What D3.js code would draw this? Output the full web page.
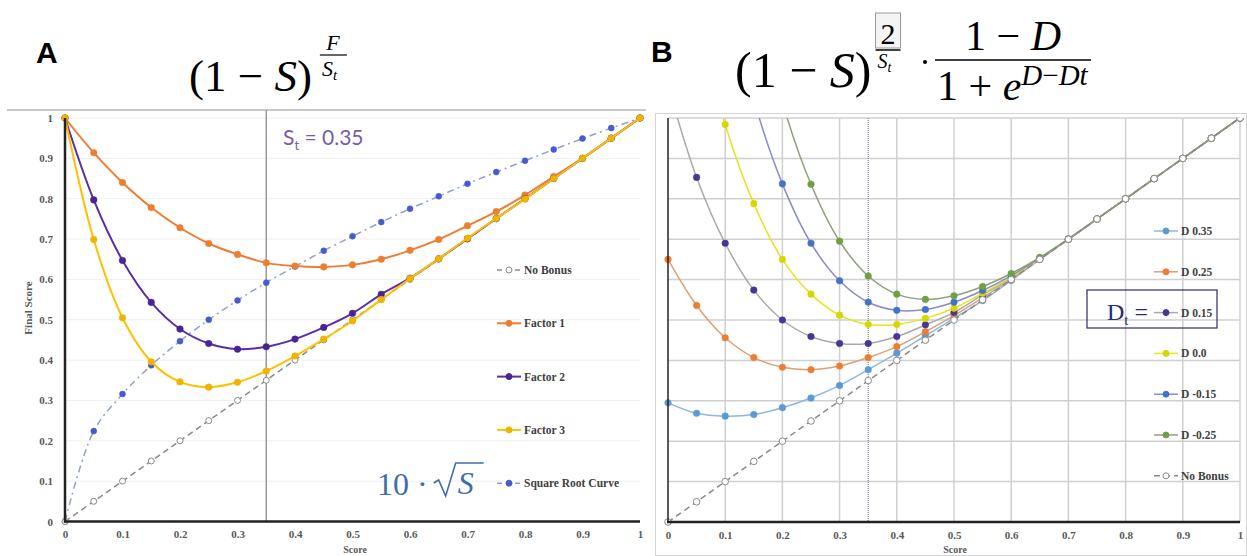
<!DOCTYPE html>
<meta charset="utf-8">
<style>
  body { margin: 0px; background: #fff; }
  svg text { font-family: 'Liberation Serif', 'Times New Roman', 'DejaVu Serif', serif; }
  .tick text { font-weight: bold; font-size: 11px; fill: #595959; }
  .legend text { font-weight: bold; font-size: 11.5px; fill: #404040; }
</style>
<body>
<svg id="chart" width="1247" height="556"></svg>
<script src="https://cdn.jsdelivr.net/npm/d3@7"></script>
<script>

// scores on the x axis (both panels)
var scores = [0,0.05,0.1,0.15,0.2,0.25,0.3,0.35,0.4,0.45,0.5,0.55,0.6,0.65,0.7,0.75,0.8,0.85,0.9,0.95,1];
var xTicks = [0,0.1,0.2,0.3,0.4,0.5,0.6,0.7,0.8,0.9,1];
var yTicks = [0,0.1,0.2,0.3,0.4,0.5,0.6,0.7,0.8,0.9,1];

// panel A
var noBonus  = [0,0.05,0.1,0.15,0.2,0.25,0.3,0.35,0.4,0.45,0.5,0.55,0.6,0.65,0.7,0.75,0.8,0.85,0.9,0.95,1];
var factor1  = [1,0.914,0.840,0.778,0.728,0.689,0.662,0.641,0.633,0.631,0.636,0.650,0.672,0.699,0.733,0.768,0.809,0.855,0.900,0.950,1];
var factor2  = [1,0.797,0.647,0.543,0.477,0.441,0.427,0.433,0.452,0.481,0.516,0.563,0.603,0.651,0.701,0.751,0.800,0.850,0.900,0.950,1];
var factor3  = [1,0.699,0.505,0.396,0.346,0.333,0.345,0.373,0.410,0.452,0.497,0.550,0.602,0.651,0.702,0.751,0.799,0.850,0.900,0.950,1];
var sqrtCurve = [0,0.224,0.316,0.387,0.447,0.500,0.548,0.592,0.632,0.671,0.707,0.742,0.775,0.806,0.837,0.866,0.894,0.922,0.949,0.975,1];
var legendA = ["No Bonus","Factor 1","Factor 2","Factor 3","Square Root Curve"];

// panel B
var d035  = [0.295,0.269,0.262,0.266,0.283,0.307,0.338,0.377,0.418,0.461,0.504,0.548,0.598,0.650,0.700,0.750,0.800,0.850,0.900,0.950,1];
var d025  = [0.650,0.536,0.456,0.407,0.383,0.377,0.386,0.407,0.434,0.471,0.511,0.555,0.601,0.650,0.700,0.750,0.800,0.850,0.900,0.950,1];
var d015  = [1.08,0.853,0.690,0.574,0.500,0.459,0.442,0.442,0.459,0.488,0.519,0.562,0.604,0.651,0.700,0.750,0.800,0.850,0.900,0.950,1];
var d000  = [1.70,1.25,0.984,0.788,0.650,0.564,0.512,0.489,0.489,0.504,0.529,0.566,0.606,0.652,0.700,0.750,0.800,0.850,0.900,0.950,1];
var dm015 = [2.00,1.60,1.35,1.046,0.837,0.690,0.597,0.544,0.524,0.526,0.544,0.573,0.610,0.653,0.700,0.750,0.800,0.850,0.900,0.950,1];
var dm025 = [2.20,1.90,1.60,1.35,1.04,0.836,0.695,0.609,0.564,0.551,0.560,0.583,0.615,0.655,0.701,0.750,0.800,0.850,0.900,0.950,1];
var legendB = ["D 0.35","D 0.25","D 0.15","D 0.0","D -0.15","D -0.25","No Bonus"];

var svg = d3.select("#chart");

var xA = d3.scaleLinear().domain([0,1]).range([65,640]),
    yA = d3.scaleLinear().domain([0,1]).range([521.5,118]),
    xB = d3.scaleLinear().domain([0,1]).range([668,1240]),
    yB = d3.scaleLinear().domain([0,1]).range([522,118]);

function drawSeries(g, x, y, vals, o) {
  var pts = scores.map(function(s, i) { return [s, vals[i]]; });
  var line = d3.line()
      .x(function(d) { return x(d[0]); })
      .y(function(d) { return y(d[1]); })
      .curve(d3.curveCatmullRom);
  g.append("path")
      .attr("d", line(pts))
      .attr("fill", "none")
      .attr("stroke", o.line)
      .attr("stroke-width", o.width || 2)
      .attr("stroke-dasharray", o.dash || null);
  g.selectAll(null)
      .data(pts.filter(function(d) { return d[1] <= 1.02; }))
      .enter().append("circle")
      .attr("cx", function(d) { return x(d[0]); })
      .attr("cy", function(d) { return y(d[1]); })
      .attr("r", o.r || 3.3)
      .attr("fill", o.open ? "#fff" : o.mark)
      .attr("stroke", o.mark)
      .attr("stroke-width", o.open ? 1 : 0.5);
}

function legendItem(g, x, y, label, o) {
  g.append("line")
      .attr("x1", x).attr("x2", x + 24).attr("y1", y).attr("y2", y)
      .attr("stroke", o.line).attr("stroke-width", o.width || 2)
      .attr("stroke-dasharray", o.dash || null);
  g.append("circle")
      .attr("cx", x + 12).attr("cy", y).attr("r", 3)
      .attr("fill", o.open ? "#fff" : o.mark).attr("stroke", o.mark);
  g.append("text")
      .attr("x", x + 27).attr("y", y + 4)
      .text(label);
}

// place a piece of formula right after the previous one
function after(sel, gap) {
  var b = sel.node().getBBox();
  return b.x + b.width + (gap || 0);
}

// ---------------- panel A ----------------
var gA = svg.append("g");

gA.append("line").attr("x1", 7).attr("x2", 646).attr("y1", 110).attr("y2", 110)
    .attr("stroke", "#c8c8c8").attr("stroke-width", 2);

gA.selectAll(".grid").data(yTicks.slice(1)).enter().append("line")
    .attr("x1", xA(0)).attr("x2", xA(1))
    .attr("y1", function(d) { return yA(d); }).attr("y2", function(d) { return yA(d); })
    .attr("stroke", "#f0f0f0");

gA.append("line").attr("x1", xA(0.35)).attr("x2", xA(0.35)).attr("y1", yA(1) - 8).attr("y2", yA(0))
    .attr("stroke", "#9a9a9a").attr("stroke-width", 1.5);

gA.append("g").attr("transform", "translate(" + (xA(0) - 9) + ",0)")
    .call(d3.axisLeft(yA).tickValues(yTicks).tickSize(0).tickFormat(d3.format("")))
    .call(function(g) { g.select(".domain").remove(); g.attr("font-family", null); });
gA.append("g").attr("transform", "translate(0," + (yA(0) + 6) + ")")
    .call(d3.axisBottom(xA).tickValues(xTicks).tickSize(0).tickFormat(d3.format("")))
    .call(function(g) { g.select(".domain").remove(); g.attr("font-family", null); });

drawSeries(gA, xA, yA, sqrtCurve, {line: "#8fa2cc", mark: "#4a5bc9", width: 1.5, dash: "7,4,2,4", r: 3});
drawSeries(gA, xA, yA, noBonus, {line: "#8a8a8a", mark: "#8a8a8a", width: 1.5, dash: "6,4", open: true, r: 3});
drawSeries(gA, xA, yA, factor1, {line: "#ed7d31", mark: "#ed7d31"});
drawSeries(gA, xA, yA, factor2, {line: "#5a2ea6", mark: "#4a2490"});
drawSeries(gA, xA, yA, factor3, {line: "#ffc000", mark: "#f0b400"});

gA.append("line").attr("x1", xA(0)).attr("x2", xA(0)).attr("y1", yA(1)).attr("y2", yA(0) + 1)
    .attr("stroke", "#222").attr("stroke-width", 2.5);
gA.append("line").attr("x1", xA(0) - 1).attr("x2", xA(1)).attr("y1", yA(0)).attr("y2", yA(0))
    .attr("stroke", "#222").attr("stroke-width", 2.5);

gA.append("text").attr("x", 355).attr("y", 553).attr("text-anchor", "middle")
    .style("font-size", "10px").style("font-weight", "bold").style("fill", "#595959").text("Score");
gA.append("text").attr("transform", "translate(32,308) rotate(-90)").attr("text-anchor", "middle")
    .style("font-size", "11px").style("font-weight", "bold").style("fill", "#595959").text("Final Score");

var legA = gA.append("g").attr("class", "legend");
var legAStyles = [
  {line: "#8a8a8a", mark: "#8a8a8a", width: 1.5, dash: "5,4", open: true},
  {line: "#ed7d31", mark: "#ed7d31"},
  {line: "#5a2ea6", mark: "#4a2490"},
  {line: "#ffc000", mark: "#f0b400"},
  {line: "#8fa2cc", mark: "#4a5bc9", width: 1.5, dash: "5,4"}
];
legendA.forEach(function(l, i) { legendItem(legA, 497, 270 + i * 53.3, l, legAStyles[i]); });

// S_t annotation
var st = gA.append("text").attr("x", 283).attr("y", 145)
    .style("font-family", "Lato, 'Open Sans', sans-serif").style("font-size", "21px").style("fill", "#7a5aa8");
st.append("tspan").text("S");
st.append("tspan").attr("dy", 5).style("font-size", "13px").text("t");
st.append("tspan").attr("dy", -5).text(" = 0.35");

// 10 · sqrt(S)
var ten = gA.append("text").attr("x", 377).attr("y", 495).style("font-size", "32px").style("fill", "#3e6fa8").text("10 ·");
var rx = after(ten, 6);
gA.append("path").attr("d", "M" + rx + ",483 L" + (rx + 5) + ",480 L" + (rx + 12) + ",496 L" + (rx + 22) + ",463 L" + (rx + 50) + ",463")
    .attr("fill", "none").attr("stroke", "#3e6fa8").attr("stroke-width", 1.6);
gA.append("text").attr("x", rx + 24).attr("y", 494).style("font-size", "32px").style("font-style", "italic")
    .style("fill", "#3e6fa8").text("S");

// ---------------- panel B ----------------
var gB = svg.append("g");

gB.append("rect").attr("x", 655.5).attr("y", 113.5).attr("width", 591).attr("height", 442)
    .attr("fill", "none").attr("stroke", "#d4d4d4");

gB.selectAll(".hgrid").data(yTicks.slice(1)).enter().append("line")
    .attr("x1", xB(0)).attr("x2", xB(1))
    .attr("y1", function(d) { return yB(d); }).attr("y2", function(d) { return yB(d); })
    .attr("stroke", "#d0d0d0").attr("stroke-width", 1.5);
gB.selectAll(".vgrid").data(xTicks.slice(1)).enter().append("line")
    .attr("x1", function(d) { return xB(d); }).attr("x2", function(d) { return xB(d); })
    .attr("y1", yB(1)).attr("y2", yB(0))
    .attr("stroke", "#d0d0d0").attr("stroke-width", 1.5);
gB.append("line").attr("x1", xB(0.35)).attr("x2", xB(0.35)).attr("y1", yB(1)).attr("y2", yB(0))
    .attr("stroke", "#6a6a90").attr("stroke-width", 1).attr("stroke-dasharray", "1,1");

gB.append("g").attr("transform", "translate(0," + (yB(0) + 6) + ")")
    .call(d3.axisBottom(xB).tickValues(xTicks).tickSize(0).tickFormat(d3.format("")))
    .call(function(g) { g.select(".domain").remove(); g.attr("font-family", null); });

svg.append("clipPath").attr("id", "clipB").append("rect")
    .attr("x", xB(0) - 6).attr("y", yB(1)).attr("width", xB(1) - xB(0) + 12).attr("height", yB(0) - yB(1) + 6);
var plotB = gB.append("g").attr("clip-path", "url(#clipB)");

var bStyles = [
  {line: "#8cb8e0", mark: "#5b9bd5", width: 1.5},
  {line: "#d8a274", mark: "#ed7d31", width: 1.5},
  {line: "#a9a9a9", mark: "#4b3592", width: 1.5},
  {line: "#e4e41e", mark: "#d6d600", width: 1.5},
  {line: "#8a8ad2", mark: "#4472c4", width: 1.5},
  {line: "#8fa07c", mark: "#6f9f46", width: 1.5},
  {line: "#8a8a8a", mark: "#8a8a8a", width: 1.5, dash: "6,4", open: true}
];
[d035, d025, d015, d000, dm015, dm025].forEach(function(v, i) { drawSeries(plotB, xB, yB, v, bStyles[i]); });
drawSeries(plotB, xB, yB, noBonus, bStyles[6]);

gB.append("line").attr("x1", xB(0)).attr("x2", xB(0)).attr("y1", yB(1)).attr("y2", yB(0) + 1)
    .attr("stroke", "#222").attr("stroke-width", 1.5);
gB.append("line").attr("x1", xB(0) - 1).attr("x2", xB(1)).attr("y1", yB(0)).attr("y2", yB(0))
    .attr("stroke", "#222").attr("stroke-width", 2.5);
gB.append("text").attr("x", 955).attr("y", 553).attr("text-anchor", "middle")
    .style("font-size", "10px").style("font-weight", "bold").style("fill", "#595959").text("Score");

var legB = gB.append("g").attr("class", "legend");
legendB.forEach(function(l, i) { legendItem(legB, 1154, 231 + i * 40.8, l, bStyles[i]); });

gB.append("rect").attr("x", 1087).attr("y", 290).attr("width", 130).attr("height", 38)
    .attr("fill", "none").attr("stroke", "#2e2a6e").attr("stroke-width", 1.2);
var dt = gB.append("text").attr("x", 1107).attr("y", 320).style("font-size", "24px").style("fill", "#2e2a6e");
dt.append("tspan").text("D");
dt.append("tspan").attr("dy", 5).style("font-size", "15px").text("t");
dt.append("tspan").attr("dy", -5).text(" =");

// ---------------- titles ----------------
svg.append("text").attr("x", 36).attr("y", 63)
    .style("font-family", "'Liberation Sans', Arial, sans-serif").style("font-weight", "bold").style("font-size", "30px").text("A");
svg.append("text").attr("x", 651).attr("y", 62)
    .style("font-family", "'Liberation Sans', Arial, sans-serif").style("font-weight", "bold").style("font-size", "30px").text("B");

// formula A
var fa = svg.append("text").attr("x", 189).attr("y", 91).style("font-size", "45px");
fa.append("tspan").text("(1 − ");
fa.append("tspan").style("font-style", "italic").text("S");
fa.append("tspan").text(")");
var ex = after(fa, 8);
svg.append("text").attr("x", ex + 13).attr("y", 50).attr("text-anchor", "middle")
    .style("font-size", "22px").style("font-style", "italic").text("F");
svg.append("line").attr("x1", ex).attr("x2", ex + 27).attr("y1", 55).attr("y2", 55).attr("stroke", "#000").attr("stroke-width", 1.2);
var fas = svg.append("text").attr("x", ex + 2).attr("y", 76).style("font-size", "22px").style("font-style", "italic");
fas.append("tspan").text("S");
fas.append("tspan").attr("dy", 4).style("font-size", "15px").text("t");

// formula B
var fb = svg.append("text").attr("x", 735).attr("y", 87).style("font-size", "50px");
fb.append("tspan").text("(1 − ");
fb.append("tspan").style("font-style", "italic").text("S");
fb.append("tspan").text(")");
var bx = after(fb, 4);
svg.append("rect").attr("x", bx).attr("y", 13).attr("width", 25).attr("height", 35)
    .attr("fill", "#f4f4f4").attr("stroke", "#999");
svg.append("text").attr("x", bx + 12.5).attr("y", 44).attr("text-anchor", "middle").style("font-size", "30px").text("2");
svg.append("line").attr("x1", bx).attr("x2", bx + 25).attr("y1", 50).attr("y2", 50).attr("stroke", "#000").attr("stroke-width", 1.5);
var fbs = svg.append("text").attr("x", bx + 2).attr("y", 68).style("font-size", "20px").style("font-style", "italic");
fbs.append("tspan").text("S");
fbs.append("tspan").attr("dy", 4).style("font-size", "14px").text("t");
svg.append("circle").attr("cx", 925).attr("cy", 62).attr("r", 2);
var num = svg.append("text").attr("x", 1013).attr("y", 50).attr("text-anchor", "middle").style("font-size", "42px");
num.append("tspan").text("1 − ");
num.append("tspan").style("font-style", "italic").text("D");
svg.append("line").attr("x1", 935).attr("x2", 1091).attr("y1", 60).attr("y2", 60).attr("stroke", "#000").attr("stroke-width", 1.5);
var den = svg.append("text").attr("x", 937).attr("y", 100).style("font-size", "42px");
den.append("tspan").text("1 + ");
den.append("tspan").style("font-style", "italic").text("e");
den.append("tspan").attr("dy", -15).style("font-size", "29px").style("font-style", "italic").text("D");
den.append("tspan").style("font-size", "29px").text("−");
den.append("tspan").style("font-size", "29px").style("font-style", "italic").text("Dt");

</script>
</body>
